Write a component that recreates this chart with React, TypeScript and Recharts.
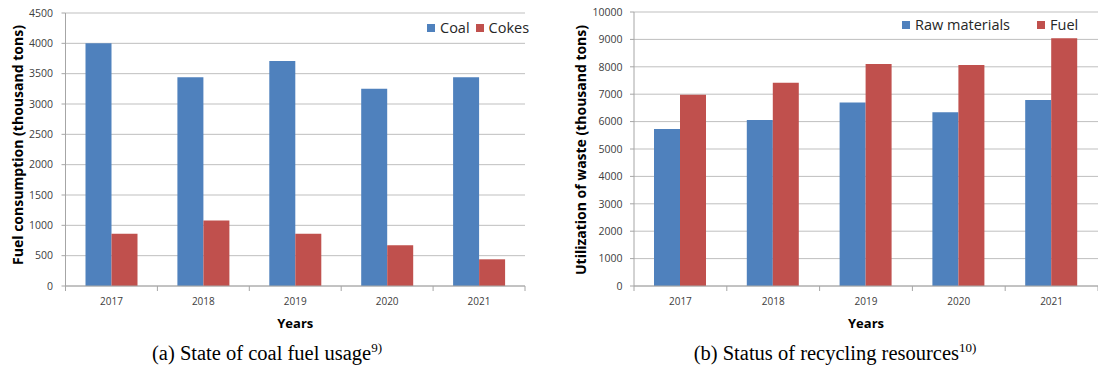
import { BarChart, Bar, XAxis, YAxis, CartesianGrid, Legend } from 'recharts';

const years = ['2017', '2018', '2019', '2020', '2021'];
const coal = [4000, 3440, 3710, 3250, 3440];
const cokes = [860, 1080, 860, 670, 440];
const rawMaterials = [5730, 6060, 6700, 6340, 6790];
const fuel = [6980, 7420, 8100, 8070, 9040];

const fuelTicks = [0, 500, 1000, 1500, 2000, 2500, 3000, 3500, 4000, 4500];
const wasteTicks = [0, 1000, 2000, 3000, 4000, 5000, 6000, 7000, 8000, 9000, 10000];

const BLUE = '#4f81bd';
const RED = '#c0504d';
const GRID = '#bfbfbf';
const AXIS = '#a6a6a6';
const FONT = '"Open Sans", Lato, sans-serif';

const coalData = years.map((year, i) => ({ year, coal: coal[i], cokes: cokes[i] }));
const wasteData = years.map((year, i) => ({ year, raw: rawMaterials[i], fuel: fuel[i] }));

// excel style: tick marks sit between categories, label in the middle
function YearTick(props: any) {
  const { x, y, payload, index, visibleTicksCount } = props;
  const half = payload.offset || 46;
  const isLast = index === visibleTicksCount - 1;
  return (
    <g>
      <line x1={x - half} x2={x - half} y1={y - 5} y2={y} stroke={AXIS} />
      {isLast && <line x1={x + half} x2={x + half} y1={y - 5} y2={y} stroke={AXIS} />}
      <text x={x} y={y} dy={14} textAnchor="middle" fill="#404040" fontSize={10} fontFamily={FONT}>
        {payload.value}
      </text>
    </g>
  );
}

// rotated title; the source figure is stretched vertically, so the text is stretched too
function YTitle(props: any) {
  const { viewBox, value, cx, shift, length } = props;
  const cy = viewBox.y + viewBox.height / 2 + shift;
  return (
    <text
      x={cx}
      y={cy}
      transform={`rotate(-90 ${cx} ${cy})`}
      textAnchor="middle"
      dominantBaseline="central"
      textLength={length}
      lengthAdjust="spacingAndGlyphs"
      fontFamily={FONT}
      fontWeight="bold"
      fontSize={13.5}
      fill="#000"
    >
      {value}
    </text>
  );
}

function XTitle(props: any) {
  const { viewBox } = props;
  return (
    <text
      x={viewBox.x + viewBox.width / 2}
      y={viewBox.y + 42}
      textAnchor="middle"
      fontFamily={FONT}
      fontWeight="bold"
      fontSize={13}
      fill="#000"
    >
      Years
    </text>
  );
}

// legend keeps the series order (recharts sorts by name otherwise)
function makeLegend(gap: number, order: string[]) {
  return function LegendContent(props: any) {
    const items = [...(props.payload || [])].sort(
      (a: any, b: any) => order.indexOf(a.dataKey) - order.indexOf(b.dataKey)
    );
    return (
      <div style={{ display: 'flex', alignItems: 'center', fontFamily: FONT, fontSize: 14.5, color: '#262626', whiteSpace: 'nowrap' }}>
        {items.map((it: any, i: number) => (
          <div key={it.value} style={{ display: 'flex', alignItems: 'center', marginLeft: i === 0 ? 0 : gap }}>
            <span style={{ display: 'inline-block', width: 8, height: 8, background: it.color, marginRight: 5 }} />
            <span>{it.value}</span>
          </div>
        ))}
      </div>
    );
  };
}

const captionStyle: React.CSSProperties = {
  position: 'absolute',
  top: 343,
  fontFamily: '"Liberation Serif", "Times New Roman", serif',
  fontSize: 20.5,
  lineHeight: '20px',
  color: '#000',
  whiteSpace: 'nowrap',
  transform: 'translateX(-50%)',
};

const supStyle: React.CSSProperties = { fontSize: 13, verticalAlign: 'super', lineHeight: 0 };

export default function App() {
  return (
    <div style={{ position: 'absolute', left: 0, top: 0, width: 1098, height: 368, background: '#fff', overflow: 'hidden' }}>
      <div style={{ position: 'absolute', left: 0, top: 0 }}>
        <BarChart width={549} height={340} data={coalData} margin={{ top: 13, right: 24, bottom: 0, left: 0 }} barGap={0} barSize={26}>
          <CartesianGrid vertical={false} stroke={GRID} />
          <XAxis
            dataKey="year"
            height={54}
            axisLine={{ stroke: AXIS }}
            tickLine={false}
            tickSize={5}
            tickMargin={0}
            tick={<YearTick />}
            label={<XTitle />}
          />
          <YAxis
            width={65.5}
            domain={[0, 4500]}
            ticks={fuelTicks}
            interval={0}
            axisLine={{ stroke: AXIS }}
            tickLine={{ stroke: AXIS }}
            tickSize={4}
            tickMargin={8.5}
            tick={{ fill: '#404040', fontSize: 10.5, fontFamily: FONT }}
            label={<YTitle value="Fuel consumption (thousand tons)" cx={17.5} shift={-4.5} length={240} />}
          />
          <Legend
            layout="vertical"
            align="center"
            verticalAlign="middle"
            content={makeLegend(6, ['coal', 'cokes'])}
            wrapperStyle={{ left: 427, top: 18, width: 'auto', height: 'auto' }}
          />
          <Bar dataKey="coal" name="Coal" fill={BLUE} isAnimationActive={false} />
          <Bar dataKey="cokes" name="Cokes" fill={RED} isAnimationActive={false} />
        </BarChart>
      </div>
      <div style={{ position: 'absolute', left: 549, top: 0 }}>
        <BarChart width={549} height={340} data={wasteData} margin={{ top: 12, right: 0, bottom: 0, left: 0 }} barGap={0} barSize={26}>
          <CartesianGrid vertical={false} stroke={GRID} />
          <XAxis
            dataKey="year"
            height={54}
            axisLine={{ stroke: AXIS }}
            tickLine={false}
            tickSize={5}
            tickMargin={0}
            tick={<YearTick />}
            label={<XTitle />}
          />
          <YAxis
            width={85}
            domain={[0, 10000]}
            ticks={wasteTicks}
            interval={0}
            axisLine={{ stroke: AXIS }}
            tickLine={{ stroke: AXIS }}
            tickSize={4}
            tickMargin={7.5}
            tick={{ fill: '#404040', fontSize: 10.5, fontFamily: FONT }}
            label={<YTitle value="Utilization of waste (thousand tons)" cx={31.5} shift={1} length={250} />}
          />
          <Legend
            layout="vertical"
            align="center"
            verticalAlign="middle"
            content={makeLegend(27, ['raw', 'fuel'])}
            wrapperStyle={{ left: 353, top: 15, width: 'auto', height: 'auto' }}
          />
          <Bar dataKey="raw" name="Raw materials" fill={BLUE} isAnimationActive={false} />
          <Bar dataKey="fuel" name="Fuel" fill={RED} isAnimationActive={false} />
        </BarChart>
      </div>
      <div style={{ ...captionStyle, left: 267 }}>
        (a) State of coal fuel usage<span style={supStyle}>9)</span>
      </div>
      <div style={{ ...captionStyle, left: 835 }}>
        (b) Status of recycling resources<span style={supStyle}>10)</span>
      </div>
    </div>
  );
}
